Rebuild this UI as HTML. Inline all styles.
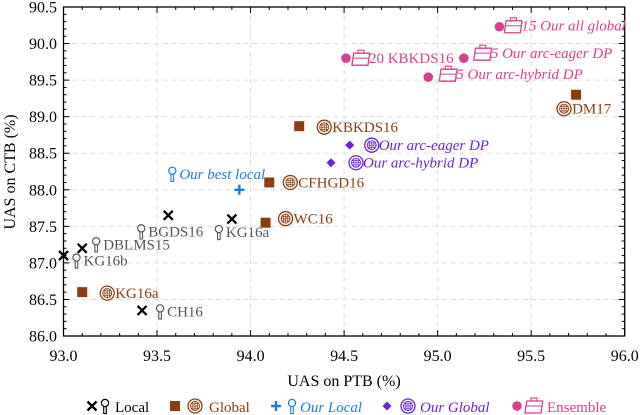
<!DOCTYPE html>
<html><head><meta charset="utf-8"><style>
html,body{margin:0;padding:0;background:#fff;}
svg{display:block;font-family:"Liberation Serif",serif;}
</style></head><body>
<svg id="chart" width="640" height="415" viewBox="0 0 640 415"></svg>
<script>
// ---- data ----
const seriesNames = ["Local","Global","Our Local","Our Global","Ensemble"];
const localX = [93.0, 93.1, 93.56, 93.9, 93.42];
const localY = [87.1, 87.2, 87.65, 87.6, 86.35];
const localLabels = ["KG16b","DBLMS15","BGDS16","KG16a","CH16"];
const globalX = [93.1, 94.08, 94.1, 94.26, 95.74];
const globalY = [86.6, 87.55, 88.1, 88.87, 89.3];
const globalLabels = ["KG16a","WC16","CFHGD16","KBKDS16","DM17"];
const ourLocalX = [93.94];
const ourLocalY = [88.0];
const ourLocalLabels = ["Our best local"];
const ourGlobalX = [94.53, 94.43];
const ourGlobalY = [88.61, 88.37];
const ourGlobalLabels = ["Our arc-eager DP","Our arc-hybrid DP"];
const ensX = [94.51, 95.14, 94.95, 95.33];
const ensY = [89.8, 89.8, 89.54, 90.23];
const ensLabels = ["20 KBKDS16","5 Our arc-eager DP","5 Our arc-hybrid DP","15 Our all global"];
const xTicks = ["93.0","93.5","94.0","94.5","95.0","95.5","96.0"];
const yTicks = ["86.0","86.5","87.0","87.5","88.0","88.5","89.0","89.5","90.0","90.5"];

// ---- layout (label offsets in px, styles; not data) ----
const localOff = [[13,5],[14,-4],[-27,16],[-13,13],[18,1]];
const globalOff = [[25,1],[20,-4],[21,0],[25,1],[-12,14]];
const ourLocalOff = [[-67,-16]];
const ourGlobalOff = [[22,0],[25,0]];
const ensOff = [[15,0],[19,-5],[20,-3],[14,-1]];
const ensItalic = [false,true,true,true];

const X0=63.5, X1=624.7, Y0=336, Y1=7;
const xMin=93, xMax=96, yMin=86, yMax=90.5;
const sx=v=>X0+(v-xMin)/(xMax-xMin)*(X1-X0);
const sy=v=>Y0-(v-yMin)/(yMax-yMin)*(Y0-Y1);
const NS="http://www.w3.org/2000/svg";
const svg=document.getElementById('chart');
function mk(tag,attrs,parent){const e=document.createElementNS(NS,tag);for(const k in attrs)e.setAttribute(k,attrs[k]);(parent||svg).appendChild(e);return e;}

const C={local:"#000",localTxt:"#555",global:"#8c3d0c",our:"#1a7fd4",ourG:"#6b22d6",ens:"#d83f8e"};

// grid
const grid=mk('g',{});


xTicks.forEach(t=>{const x=sx(+t);mk('line',{x1:x,x2:x,y1:Y1,y2:Y0,stroke:"#ddd","stroke-dasharray":"5,4","stroke-width":1},grid);});
yTicks.forEach(t=>{const y=sy(+t);mk('line',{x1:X0,x2:X1,y1:y,y2:y,stroke:"#ddd","stroke-dasharray":"5,4","stroke-width":1},grid);});

// axes frame
const frame=mk('rect',{x:X0,y:Y1,width:X1-X0,height:Y0-Y1,fill:"none",stroke:"#000","stroke-width":1.3});



// ticks
const xAxis=mk('g',{});


for(let i=0;i<=30;i++){const v=xMin+i*0.1;const x=sx(v);const major=i%5===0;
  mk('line',{x1:x,x2:x,y1:Y0,y2:Y0-(major?6:3),stroke:"#000","stroke-width":1},xAxis);
  mk('line',{x1:x,x2:x,y1:Y1,y2:Y1+(major?6:3),stroke:"#000","stroke-width":1},xAxis);}
xTicks.forEach(t=>{const e=mk('text',{x:sx(+t),y:361,"text-anchor":"middle","font-size":16},xAxis);e.textContent=t;
  
  });
const yAxis=mk('g',{});


for(let i=0;i<=45;i++){const v=yMin+i*0.1;const y=sy(v);const major=i%5===0;
  mk('line',{x1:X0,x2:X0+(major?6:3),y1:y,y2:y,stroke:"#000","stroke-width":1},yAxis);
  mk('line',{x1:X1,x2:X1-(major?6:3),y1:y,y2:y,stroke:"#000","stroke-width":1},yAxis);}
yTicks.forEach(t=>{const e=mk('text',{x:57,y:sy(+t)+5.5,"text-anchor":"end","font-size":16},yAxis);e.textContent=t;
  
  });
const xt=mk('text',{x:344,y:386,"text-anchor":"middle","font-size":16});xt.textContent="UAS on PTB (%)";


const yt=mk('text',{x:0,y:0,"text-anchor":"middle","font-size":16,transform:"translate(15,172) rotate(-90)"});yt.textContent="UAS on CTB (%)";



// icons
function pin(x,y,col,p){const g=mk('g',{},p);mk('circle',{cx:x,cy:y-3,r:3.6,fill:"#fff",stroke:col,"stroke-width":1.2},g);
  mk('rect',{x:x-1.3,y:y+0.6,width:2.6,height:7,fill:"#fff",stroke:col,"stroke-width":1.1},g);return g;}
function globe(x,y,col,p){const g=mk('g',{},p);mk('circle',{cx:x,cy:y,r:7,fill:"none",stroke:col,"stroke-width":1.3},g);
  mk('circle',{cx:x,cy:y,r:4.5,fill:"none",stroke:col,"stroke-width":0.9},g);
  [-2.2,0,2.2].forEach(d=>{mk('line',{x1:x+d,x2:x+d,y1:y-4,y2:y+4,stroke:col,"stroke-width":0.7},g);mk('line',{y1:y+d,y2:y+d,x1:x-4,x2:x+4,stroke:col,"stroke-width":0.7},g);});return g;}
function brief(x,y,col,p){const g=mk('g',{},p);mk('rect',{x:x-8,y:y-5,width:16,height:12,fill:"none",stroke:col,"stroke-width":1.3,transform:`skewX(-8)`,"transform-origin":`${x} ${y}`},g);
  mk('rect',{x:x-3,y:y-8,width:6,height:3,fill:"none",stroke:col,"stroke-width":1.1},g);
  mk('line',{x1:x-8,x2:x+8,y1:y,y2:y,stroke:col,"stroke-width":1},g);return g;}
function xmark(x,y,col,p){const g=mk('g',{},p);mk('path',{d:`M${x-4.5},${y-4.5}L${x+4.5},${y+4.5}M${x-4.5},${y+4.5}L${x+4.5},${y-4.5}`,stroke:col,"stroke-width":2.3},g);return g;}
function square(x,y,col,p){return mk('rect',{x:x-5,y:y-5,width:10,height:10,fill:col},p);}
function plus(x,y,col,p){return mk('path',{d:`M${x-5},${y}H${x+5}M${x},${y-5}V${y+5}`,stroke:col,"stroke-width":2.4},p);}
function diamond(x,y,col,p){return mk('path',{d:`M${x},${y-4.5}L${x+4.5},${y}L${x},${y+4.5}L${x-4.5},${y}Z`,fill:col},p);}
function dot(x,y,col,p){return mk('circle',{cx:x,cy:y,r:4.8,fill:col},p);}

function series(name,xs,ys,labels,offs,marker,icon,mcol,tcol,italic,iw){
  const g=mk('g',{});
  
  
  xs.forEach((v,i)=>{const px=sx(v),py=sy(ys[i]);
    const m=marker(px,py,mcol,g);
    
    
    const ix=px+offs[i][0],iy=py+offs[i][1];
    icon(ix,iy,tcol,g);
    const it=Array.isArray(italic)?italic[i]:italic;
    const t=mk('text',{x:ix+iw,y:iy+5,"font-size":15,fill:tcol,"font-style":it?"italic":"normal"},g);
    t.textContent=labels[i];
    
    
  });
}
series('local',localX,localY,localLabels,localOff,xmark,pin,C.local,C.localTxt,false,7);
series('global',globalX,globalY,globalLabels,globalOff,square,globe,C.global,C.global,false,8);
series('our-local',ourLocalX,ourLocalY,ourLocalLabels,ourLocalOff,plus,pin,C.our,C.our,true,7);
series('our-global',ourGlobalX,ourGlobalY,ourGlobalLabels,ourGlobalOff,diamond,globe,C.ourG,C.ourG,true,7);
series('ensemble',ensX,ensY,ensLabels,ensOff,dot,brief,C.ens,C.ens,ensItalic,8);

// legend
const lg=mk('g',{});


const LY=407;
const legItems=[
 {m:xmark,mc:C.local,ic:pin,icc:C.local,mx:92,ix:105,tx:115,tc:"#000",it:false},
 {m:square,mc:C.global,ic:globe,icc:C.global,mx:175,ix:195,tx:209,tc:C.global,it:false},
 {m:plus,mc:C.our,ic:pin,icc:C.our,mx:276,ix:292,tx:300,tc:C.our,it:true},
 {m:diamond,mc:C.ourG,ic:globe,icc:C.ourG,mx:387,ix:408,tx:420,tc:C.ourG,it:true},
 {m:dot,mc:C.ens,ic:brief,icc:C.ens,mx:517,ix:534,tx:547,tc:C.ens,it:false}];
legItems.forEach((it,i)=>{const g=mk('g',{},lg);
  
  
  it.m(it.mx,LY-1,it.mc,g);it.ic(it.ix,LY-1,it.icc,g);
  const t=mk('text',{x:it.tx,y:LY+5,"font-size":15,fill:it.tc,"font-style":it.it?"italic":"normal"},g);t.textContent=seriesNames[i];});
</script>
</body></html>
